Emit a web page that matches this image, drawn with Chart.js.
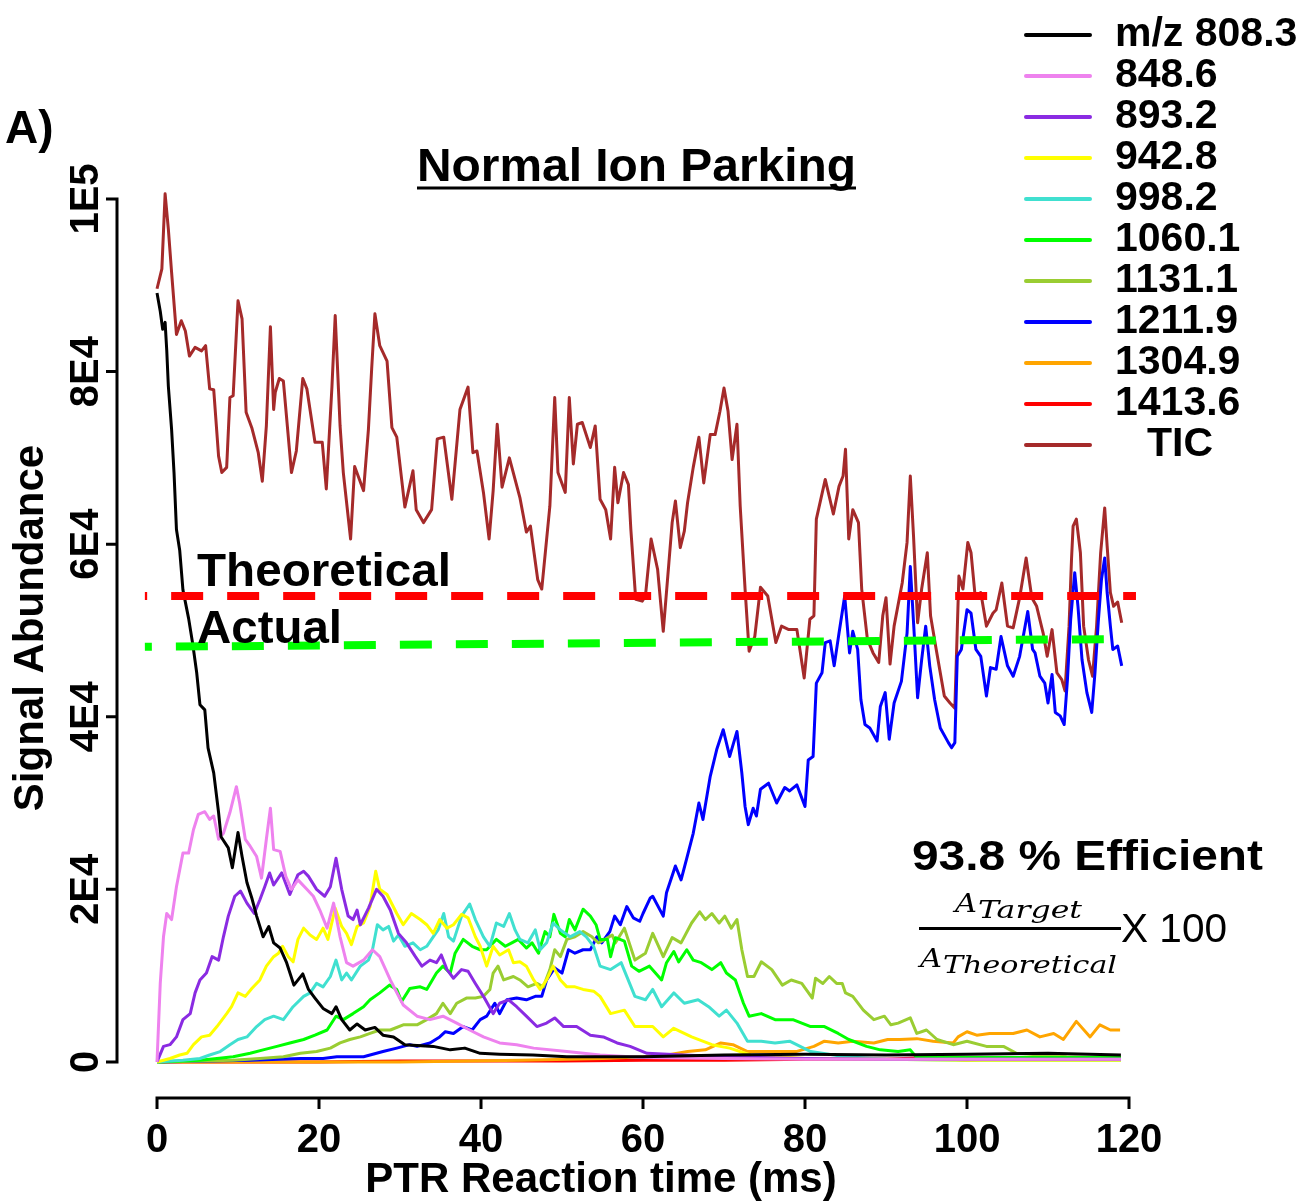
<!DOCTYPE html>
<html lang="en">
<head>
<meta charset="UTF-8">
<title>Normal Ion Parking</title>
<script src="https://cdn.jsdelivr.net/npm/chart.js"></script>
<style>
  body { margin: 0; background: #fff; }
  #wrap { width: 1306px; height: 1203px; }
</style>
</head>
<body>
<div id="wrap"><canvas id="ptrChart" width="1306" height="1203"></canvas></div>
<script>
// signal values are in thousands of counts, time in ms  ([time, value] pairs)
const mz808 = [[0,89.1],[0.4,87.0],[0.7,84.9],[1.0,85.7],[1.2,82.5],[1.4,78.3],[1.8,73.3],[2.1,68.3],[2.4,61.7],[2.8,59.3],[3.2,54.7],[3.9,51.4],[4.4,48.5],[4.9,45.1],[5.3,41.4],[5.9,40.8],[6.3,36.4],[7.0,33.5],[7.6,28.9],[7.9,26.1],[8.8,24.8],[9.3,22.5],[10.0,26.6],[10.5,23.8],[11.1,20.8],[11.7,19.0],[12.3,16.9],[13.1,14.5],[13.8,15.7],[14.4,13.8],[15.2,13.2],[16.0,11.5],[16.9,8.9],[18.0,10.2],[18.7,8.4],[19.5,7.4],[20.5,6.2],[21.6,5.6],[22.1,6.4],[22.8,4.9],[23.8,3.7],[24.7,4.4],[25.7,3.7],[26.9,4.0],[27.9,3.1],[29.2,2.9],[30.6,2.0],[32.1,1.9],[34.1,1.8],[36.2,1.4],[38.0,1.6],[39.9,1.0],[42.3,0.9],[46.4,0.8],[50.6,0.6],[60,0.6],[70,0.8],[80,0.9],[90,0.8],[100,0.9],[110,1.0],[119,0.8]];

const mz848 = [[0,0],[0.4,9.1],[0.8,14.5],[1.2,17.2],[1.8,16.5],[2.4,20.3],[3.2,24.2],[3.9,24.2],[4.5,26.9],[5.1,28.7],[5.9,29.0],[6.5,28.1],[7.0,28.5],[7.6,25.8],[8.2,26.5],[9.0,28.9],[9.8,31.9],[10.2,30.0],[10.9,25.8],[11.5,25.0],[12.3,23.8],[12.9,21.3],[13.5,25.8],[14.0,29.4],[14.4,24.6],[15.2,24.4],[15.9,21.5],[16.6,20.0],[17.4,21.1],[18.5,20.0],[19.3,19.2],[20.1,17.6],[21.0,15.5],[21.8,18.4],[22.6,14.5],[23.4,11.5],[24.2,11.1],[25.5,11.8],[26.6,13.0],[27.5,12.2],[28.8,9.5],[30.4,6.6],[32.1,5.3],[33.7,4.9],[35.3,5.3],[37.0,4.5],[38.6,3.7],[40.3,2.9],[42.3,2.2],[44.4,2.0],[46.5,1.6],[50.6,1.2],[54.7,0.8],[60,0.5],[70,0.4],[80,0.3],[90,0.3],[100,0.3],[110,0.3],[119,0.3]];

const mz893 = [[0,0],[0.8,1.8],[1.6,2.0],[2.4,2.9],[3.2,4.9],[4.1,5.6],[4.7,8.0],[5.3,9.5],[6.1,10.3],[6.8,12.2],[7.6,11.8],[8.2,14.5],[8.8,16.9],[9.6,19.2],[10.3,19.8],[11.1,18.4],[12.0,17.2],[12.7,18.8],[13.3,20.3],[13.9,21.9],[14.4,20.5],[15.4,21.9],[16.4,19.4],[17.4,21.7],[18.1,22.1],[18.7,21.5],[19.7,20.0],[20.7,19.2],[21.4,20.3],[22.1,23.6],[22.8,20.0],[23.6,16.9],[24.2,16.5],[24.7,17.6],[25.1,15.9],[26.1,17.8],[27.1,20.0],[27.9,19.2],[28.8,17.6],[29.8,14.9],[30.8,13.8],[31.9,12.2],[32.7,11.1],[33.7,11.8],[34.5,11.5],[35.1,12.4],[35.8,10.7],[36.6,9.7],[37.6,10.7],[38.4,10.5],[39.3,9.1],[40.3,7.6],[41.5,5.6],[42.3,6.8],[43.4,7.2],[44.4,6.4],[45.6,5.3],[46.9,4.1],[48.1,4.5],[49.1,5.1],[50.2,4.1],[51.8,4.1],[53.5,3.1],[55.1,2.9],[56.8,2.2],[58.4,1.8],[60.5,1.0],[65,0.8],[70,0.6],[80,0.4],[90,0.3],[100,0.3],[110,0.3],[119,0.3]];

const mz942 = [[0,0],[1.6,0.4],[2.8,0.8],[3.7,1.0],[4.5,2.0],[5.5,2.9],[6.5,3.1],[7.4,4.1],[8.6,5.6],[9.2,6.4],[10.0,8.0],[10.9,7.6],[11.7,8.5],[12.7,9.5],[13.5,11.1],[14.4,12.2],[15.0,12.6],[15.5,13.4],[16.2,12.2],[16.8,11.6],[17.4,14.2],[18.1,15.5],[18.9,14.7],[19.7,14.2],[20.5,15.5],[21.1,14.2],[22.0,17.8],[22.8,15.7],[23.4,14.9],[24.0,13.6],[24.7,15.7],[25.5,16.1],[26.3,18.0],[27.0,22.1],[27.5,20.0],[28.4,19.4],[29.6,17.2],[30.4,15.9],[31.4,17.2],[32.5,16.5],[33.3,15.9],[34.1,14.9],[34.9,16.5],[35.8,15.5],[36.6,15.9],[37.6,17.1],[38.4,16.7],[39.3,14.5],[39.9,13.4],[40.7,11.1],[41.5,13.4],[42.3,12.4],[43.4,13.0],[44.0,11.5],[44.8,11.6],[45.6,11.1],[46.5,9.5],[47.3,8.4],[48.1,9.5],[48.9,11.1],[49.8,9.5],[50.6,8.7],[51.6,8.7],[52.6,8.4],[53.9,8.2],[54.7,7.6],[56.0,5.6],[57.7,6.0],[59.0,4.1],[61.2,4.1],[62.5,2.9],[63.8,3.9],[66.0,2.9],[68.5,2.0],[70.7,1.6],[73.3,0.8],[80,0.4],[90,0.3],[100,0.2],[110,0.2],[119,0.2]];

const mz998 = [[0,0],[3.2,0.2],[5.3,0.4],[6.5,0.8],[7.8,1.2],[9.0,2.0],[10.0,2.6],[11.1,2.9],[12.3,4.1],[13.3,4.9],[14.4,5.3],[15.6,4.9],[16.8,6.4],[18.1,7.6],[18.9,8.0],[19.7,9.1],[20.5,8.7],[21.4,9.9],[22.1,11.8],[22.8,9.5],[23.4,10.3],[24.0,9.5],[25.1,11.1],[26.1,11.8],[26.6,13.0],[27.2,15.9],[27.9,15.3],[28.6,15.7],[29.2,14.0],[29.8,14.7],[30.6,13.4],[31.6,13.8],[32.5,13.0],[33.3,13.4],[34.1,14.5],[34.7,15.3],[35.4,17.2],[36.0,14.5],[36.6,14.0],[37.6,16.9],[38.6,18.3],[39.3,16.5],[40.3,14.5],[41.1,13.4],[41.9,16.1],[42.8,15.7],[43.5,17.2],[44.2,15.3],[44.8,14.2],[45.8,13.8],[46.7,15.3],[47.3,13.0],[48.1,13.8],[48.9,16.1],[49.8,15.3],[51.0,14.5],[52.2,15.1],[53.0,14.5],[53.9,13.4],[54.7,11.1],[56.0,10.7],[57.3,11.5],[59.0,7.6],[60.3,7.2],[61.2,8.4],[62.3,6.4],[63.8,8.0],[65.1,6.8],[66.8,7.2],[68.1,6.4],[69.4,5.3],[70.3,6.0],[71.6,4.5],[72.9,2.4],[74.6,2.4],[76.3,2.2],[78.1,2.4],[79.4,1.8],[80.7,1.2],[85,0.6],[90,0.3],[100,0.2],[110,0.2],[119,0.2]];

const mz1060 = [[0,0],[5.3,0.2],[7.4,0.4],[9.4,0.6],[11.5,1.0],[13.1,1.4],[14.8,1.8],[16.4,2.2],[18.1,2.6],[19.5,3.1],[21.0,3.7],[22.1,5.3],[23.0,4.9],[24.2,5.6],[25.5,6.4],[26.3,7.2],[27.5,8.0],[28.7,8.9],[29.6,8.4],[30.2,7.0],[31.2,8.5],[32.5,8.7],[33.3,8.4],[34.5,10.3],[35.3,11.1],[36.2,10.3],[36.8,12.6],[37.8,14.2],[38.9,13.4],[39.9,13.0],[40.7,13.0],[41.9,14.2],[43.0,13.4],[43.8,13.8],[44.6,14.2],[45.6,13.2],[46.3,13.8],[47.1,12.6],[47.9,15.1],[48.5,14.5],[49.0,17.1],[49.8,14.9],[50.4,14.5],[50.9,16.5],[51.6,15.3],[52.6,17.7],[53.5,16.9],[54.2,15.9],[54.7,14.2],[55.6,14.2],[56.0,12.2],[56.6,14.4],[57.7,14.0],[58.6,11.1],[59.5,10.5],[60.8,11.1],[62.3,9.5],[62.9,11.5],[63.8,12.8],[64.4,11.6],[65.4,13.0],[66.2,11.8],[67.2,11.5],[68.5,10.7],[69.6,11.5],[70.3,10.3],[71.4,9.5],[72.4,6.8],[73.1,5.3],[74.6,5.6],[76.3,4.9],[78.5,4.9],[80.7,4.1],[82.4,4.1],[84.1,3.3],[85.4,2.6],[87.6,1.8],[89.3,1.4],[91.5,1.2],[93.0,1.4],[93.7,0.6],[100,0.5],[110,0.5],[119,0.5]];

const mz1131 = [[0,0],[9.4,0.2],[12.7,0.4],[15.6,0.6],[17.7,1.0],[19.7,1.2],[21.4,1.6],[22.6,2.2],[23.8,2.6],[25.1,2.9],[26.3,3.3],[27.5,3.7],[28.8,3.7],[30.4,4.3],[32.1,4.3],[33.3,4.9],[34.5,5.6],[35.3,6.8],[36.2,5.6],[37.0,6.8],[38.2,7.4],[39.3,7.4],[40.3,7.6],[41.1,8.4],[41.5,10.3],[42.1,11.1],[42.8,9.5],[44.0,9.9],[44.8,9.5],[45.8,8.7],[46.9,9.1],[47.7,8.7],[48.5,10.7],[49.1,13.0],[49.8,12.2],[50.6,14.2],[51.6,14.5],[52.6,15.1],[53.7,14.5],[54.5,13.8],[55.3,14.2],[56.2,14.7],[56.6,13.8],[57.7,15.5],[59.0,11.8],[60.3,12.6],[61.2,14.9],[62.5,12.2],[63.6,14.4],[64.7,13.8],[66.0,16.1],[67.0,17.4],[67.7,16.5],[68.5,17.2],[69.4,16.1],[70.1,16.9],[70.9,15.5],[71.6,16.5],[72.2,13.0],[72.9,9.9],[73.7,9.9],[74.6,11.6],[75.9,10.7],[77.2,8.9],[78.3,9.5],[79.6,9.1],[80.9,7.4],[81.3,9.7],[82.2,9.1],[83.0,9.9],[83.9,9.1],[84.6,9.1],[85.0,8.0],[85.9,7.6],[87.2,6.0],[88.5,4.9],[89.8,5.3],[90.6,4.3],[91.5,4.5],[93.0,5.1],[93.8,3.3],[95.0,3.7],[96.3,2.6],[98.3,2.0],[100.0,2.4],[102.4,1.8],[104.5,1.8],[106.1,1.0],[109.0,0.8],[112.3,0.6],[119,0.4]];

const mz1211 = [[0,0],[11.5,0.2],[17.7,0.4],[20.5,0.4],[22.2,0.6],[23.8,0.6],[25.5,0.6],[27.1,1.0],[27.9,1.2],[29.6,1.6],[31.2,2.0],[32.1,1.8],[33.7,2.2],[34.9,2.9],[35.6,3.5],[36.6,3.3],[37.8,4.1],[38.9,3.7],[39.9,4.9],[40.7,5.3],[41.7,6.8],[42.3,5.6],[43.2,7.2],[44.4,7.4],[45.6,7.2],[46.7,7.6],[47.5,7.6],[48.1,9.5],[49.1,10.9],[50.0,10.3],[50.8,13.0],[51.6,12.6],[52.6,13.0],[53.5,13.0],[54.3,14.5],[54.9,13.8],[55.9,15.1],[56.5,16.9],[57.2,15.9],[58.0,18.0],[58.8,16.7],[59.6,16.3],[60.0,17.2],[60.9,19.0],[61.2,19.2],[62.5,16.9],[62.9,19.6],[64.0,22.7],[64.7,21.1],[65.4,23.6],[66.2,26.5],[66.9,30.0],[67.4,28.1],[68.3,33.1],[69.1,36.2],[69.9,38.5],[70.7,35.4],[71.6,38.3],[72.2,33.5],[72.6,29.6],[73.0,27.5],[73.6,29.4],[74.0,28.5],[74.5,31.6],[75.5,32.3],[76.5,30.0],[77.5,31.8],[78.1,31.4],[79.0,32.1],[80.0,29.6],[80.4,35.0],[81.0,35.4],[81.4,43.9],[82.1,45.1],[82.5,48.6],[83.1,48.8],[83.6,45.9],[84.2,49.7],[84.9,54.0],[85.5,47.4],[85.9,49.9],[86.5,47.8],[86.9,42.0],[87.4,39.1],[88.0,38.7],[88.9,37.2],[89.3,41.2],[89.9,42.8],[90.4,37.4],[91.0,41.6],[91.9,44.1],[92.6,49.7],[93.0,57.4],[93.5,49.3],[93.9,42.2],[94.4,46.6],[94.9,50.5],[95.4,45.9],[96.0,42.0],[96.7,38.7],[97.7,37.0],[98.1,36.4],[98.5,37.0],[98.8,47.0],[99.3,47.8],[100.0,52.4],[100.5,52.0],[101.1,47.8],[101.7,47.0],[102.4,42.4],[102.9,45.7],[103.6,45.5],[104.2,49.3],[105.0,45.9],[105.7,44.7],[106.5,47.0],[107.5,52.2],[108.1,47.8],[108.4,47.4],[109.0,44.7],[109.6,43.9],[110.0,41.6],[110.5,44.9],[110.9,40.5],[111.5,40.1],[112.0,39.1],[112.4,44.3],[112.8,51.3],[113.3,56.7],[113.7,52.8],[114.2,46.6],[114.8,42.8],[115.4,40.5],[115.8,45.1],[116.2,50.9],[116.6,55.9],[117.0,58.4],[117.3,54.4],[117.7,50.5],[118.0,47.8],[118.6,48.2],[119.1,45.9]];

const mz1304 = [[0,0],[30,0],[45,0.2],[55,0.4],[60,0.6],[63,0.8],[65.5,1.2],[67.7,1.4],[69.6,2.2],[71.1,2.0],[72.9,1.2],[76.3,1.2],[78.9,1.2],[81.1,1.8],[82.4,2.4],[84.1,2.2],[85.9,2.4],[88.5,2.2],[90.2,2.6],[91.7,2.6],[93.8,2.7],[95.8,2.4],[98.3,2.2],[98.9,2.9],[100.0,3.5],[101.2,3.1],[102.8,3.3],[104.1,3.3],[105.7,3.3],[107.4,3.7],[109.0,2.9],[110.7,3.3],[111.9,2.6],[113.5,4.7],[115.2,2.9],[116.4,4.3],[117.7,3.7],[118.9,3.7]];

const mz1413 = [[0,0],[10,0],[20,0],[30,0.1],[40,0.1],[50,0.1],[60,0.2],[70,0.2],[80,0.3],[90,0.3],[95,0.5],[100,0.2],[105,0.4],[110,0.5],[115,0.3],[119,0.5]];

const tic = [[0,89.6],[0.6,91.9],[1.0,100.6],[1.4,96.5],[1.8,91.5],[2.4,84.3],[3.0,85.9],[3.5,84.7],[4.0,81.8],[4.7,82.8],[5.5,82.4],[6.0,83.0],[6.5,78.0],[7.0,77.9],[7.6,70.2],[8.0,68.3],[8.6,68.9],[9.0,77.0],[9.4,77.2],[10.0,88.2],[10.5,86.1],[11.0,75.3],[11.7,73.5],[12.5,70.6],[13.0,67.3],[13.5,73.7],[14.0,85.2],[14.4,75.6],[14.6,77.6],[15.1,79.2],[15.6,78.9],[16.6,68.3],[17.2,70.8],[18.0,79.2],[18.5,78.0],[19.5,71.8],[20.4,71.8],[20.9,66.4],[21.6,78.3],[22.0,86.5],[22.6,73.7],[23.0,68.3],[23.9,60.6],[24.4,69.0],[25.5,66.2],[26.1,73.3],[26.5,80.3],[26.9,86.7],[27.5,83.0],[28.4,81.2],[29.0,73.5],[29.6,72.4],[30.6,64.3],[31.6,68.5],[32.0,64.0],[32.9,62.5],[33.9,64.0],[34.6,72.2],[35.4,72.4],[36.4,65.2],[37.4,75.6],[38.4,78.2],[39.0,70.6],[39.5,70.8],[40.3,66.0],[41.0,60.6],[41.5,66.2],[42.0,73.9],[42.6,66.6],[43.5,70.0],[44.8,65.4],[45.6,61.4],[46.1,62.1],[47.0,55.9],[47.5,54.8],[48.5,64.4],[49.1,77.0],[49.5,68.3],[50.4,66.0],[50.9,77.0],[51.4,69.3],[51.9,73.9],[52.5,74.1],[53.5,71.2],[54.1,73.7],[54.7,65.2],[55.4,64.0],[56.0,60.6],[56.5,68.9],[56.9,64.8],[57.6,68.3],[58.2,66.9],[58.5,61.7],[59.1,53.6],[59.9,53.4],[60.3,54.0],[61.0,60.6],[61.8,57.1],[62.5,49.9],[63.2,57.9],[63.6,62.5],[64.0,65.0],[64.6,59.6],[65.1,61.5],[65.5,64.8],[66.2,68.9],[66.9,72.4],[67.5,67.1],[68.3,72.7],[68.9,72.7],[69.5,75.4],[70.0,78.1],[70.5,75.4],[71.0,69.8],[71.6,73.9],[72.0,64.4],[72.6,54.8],[73.1,47.6],[73.8,49.3],[74.5,55.0],[75.4,54.0],[76.4,48.6],[77.1,50.5],[78.0,50.1],[79.0,50.1],[79.9,44.5],[80.6,51.3],[81.1,51.7],[81.4,62.9],[82.5,67.5],[83.5,63.5],[84.2,66.7],[84.7,67.9],[85.0,71.0],[85.4,60.6],[85.9,64.0],[86.6,62.5],[87.0,54.8],[87.7,49.0],[88.4,47.4],[89.1,46.3],[89.6,51.7],[90.0,53.8],[90.5,46.1],[91.0,50.5],[92.0,55.5],[92.6,60.2],[93.0,67.9],[93.4,60.9],[93.9,50.9],[94.4,54.8],[95.1,59.0],[95.5,51.7],[96.2,47.8],[97.2,42.4],[97.9,41.6],[98.5,41.0],[99.0,56.3],[99.5,54.8],[100.1,60.2],[100.5,59.0],[101.0,54.0],[101.7,54.4],[102.4,50.5],[103.2,52.0],[103.6,52.4],[104.3,55.5],[105.0,50.5],[105.7,50.3],[106.5,53.8],[107.3,58.4],[108.0,53.8],[108.6,52.8],[109.4,49.7],[109.9,47.0],[110.5,50.1],[111.1,45.1],[111.7,44.3],[112.1,43.0],[112.6,50.5],[112.9,58.2],[113.1,62.1],[113.5,62.9],[114.0,59.0],[114.4,50.5],[115.0,46.6],[115.5,44.7],[116.0,50.5],[116.5,59.0],[117.0,64.2],[117.3,59.8],[117.7,54.4],[118.1,52.8],[118.6,53.3],[119.1,50.9]];

// reference levels
const theoreticalLevel = [[-1.5,54.0],[120.86,54.0]];
const actualLevel = [[-1.5,48.1],[118,49.0]];

const seriesLabels = ['m/z 808.3','848.6','893.2','942.8','998.2','1060.1','1131.1','1211.9','1304.9','1413.6','TIC'];
const seriesData = [mz808, mz848, mz893, mz942, mz998, mz1060, mz1131, mz1211, mz1304, mz1413, tic];
const seriesColors = ['#000000','#EE82EE','#8A2BE2','#FFFF00','#40E0D0','#00FF00','#9ACD32','#0000FF','#FFA500','#FF0000','#A52A2A'];

const xTicks = [0, 20, 40, 60, 80, 100, 120];
const xTickLabels = ['0', '20', '40', '60', '80', '100', '120'];
const yTicks = [0, 20, 40, 60, 80, 100];
const yTickLabels = ['0', '2E4', '4E4', '6E4', '8E4', '1E5'];

const toXY = arr => arr.map(p => ({ x: p[0], y: p[1] }));

// chart.js draws dataset 0 on top, so reverse: red on top, TIC at the bottom
const datasets = [
  { label: 'Theoretical', data: toXY(theoreticalLevel), borderColor: '#FF0000', borderWidth: 8, borderDash: [32, 24], borderDashOffset: 29.7 },
  { label: 'Actual', data: toXY(actualLevel), borderColor: '#00FF00', borderWidth: 8, borderDash: [32, 24], borderDashOffset: 25 }
];
for (let i = seriesData.length - 1; i >= 0; i--) {
  datasets.splice(2, 0, { label: seriesLabels[i], data: toXY(seriesData[i]), borderColor: seriesColors[i], borderWidth: 3 });
}
// move TIC below the blue trace etc. (it is drawn first = at the bottom)
const ticIdx = datasets.findIndex(d => d.label === 'TIC');
datasets.push(datasets.splice(ticIdx, 1)[0]);

function fitText(ctx, text, left, baseline, width) {
  const w = ctx.measureText(text).width;
  ctx.save();
  ctx.translate(left, baseline);
  ctx.scale(width / w, 1);
  ctx.textAlign = 'left';
  ctx.fillText(text, 0, 0);
  ctx.restore();
}

const decorations = {
  id: 'decorations',
  afterDraw(chart) {
    const ctx = chart.ctx, xs = chart.scales.x, ys = chart.scales.y, area = chart.chartArea;
    ctx.save();
    ctx.strokeStyle = '#000';
    ctx.fillStyle = '#000';
    ctx.lineWidth = 3;

    // x axis (R style, detached)
    ctx.beginPath();
    ctx.moveTo(xs.getPixelForValue(xTicks[0]), area.bottom);
    ctx.lineTo(xs.getPixelForValue(xTicks[xTicks.length - 1]), area.bottom);
    xs.ticks.forEach(t => {
      const px = xs.getPixelForValue(t.value);
      ctx.moveTo(px, area.bottom - 1.5);
      ctx.lineTo(px, area.bottom + 11);
    });
    // y axis
    ctx.moveTo(area.left, ys.getPixelForValue(yTicks[0]));
    ctx.lineTo(area.left, ys.getPixelForValue(yTicks[yTicks.length - 1]));
    ys.ticks.forEach(t => {
      const py = ys.getPixelForValue(t.value);
      ctx.moveTo(area.left + 1.5, py);
      ctx.lineTo(area.left - 11, py);
    });
    ctx.stroke();

    ctx.font = 'bold 40px "Liberation Sans", Arial, sans-serif';
    ctx.textAlign = 'center';
    ctx.textBaseline = 'alphabetic';
    xs.ticks.forEach((t, i) => {
      ctx.fillText(xTickLabels[i], xs.getPixelForValue(t.value), 1152);
    });
    ys.ticks.forEach((t, i) => {
      ctx.save();
      ctx.translate(98, ys.getPixelForValue(t.value));
      ctx.rotate(-Math.PI / 2);
      ctx.fillText(yTickLabels[i], 0, 0);
      ctx.restore();
    });

    // axis titles
    ctx.font = 'bold 42px "Liberation Sans", Arial, sans-serif';
    ctx.fillText('PTR Reaction time (ms)', 601, 1192);
    ctx.save();
    ctx.translate(43, 628);
    ctx.rotate(-Math.PI / 2);
    ctx.fillText('Signal Abundance', 0, 0);
    ctx.restore();

    // panel label and title
    ctx.font = 'bold 46px "Liberation Sans", Arial, sans-serif';
    ctx.textAlign = 'left';
    ctx.fillText('A)', 5, 143);
    fitText(ctx, 'Normal Ion Parking', 417, 181, 439);
    ctx.beginPath();
    ctx.moveTo(417, 188);
    ctx.lineTo(856, 188);
    ctx.stroke();

    // level labels
    ctx.font = 'bold 47px "Liberation Sans", Arial, sans-serif';
    fitText(ctx, 'Theoretical', 197, 586, 254);
    fitText(ctx, 'Actual', 197, 643, 145);

    // efficiency note
    ctx.font = 'bold 42px "Liberation Sans", Arial, sans-serif';
    fitText(ctx, '93.8 % Efficient', 912, 870, 351);
    ctx.font = 'italic 26px "DejaVu Serif", serif';
    fitText(ctx, 'A', 955, 912, 22);
    fitText(ctx, 'A', 920, 967, 22);
    ctx.font = 'italic 24px "DejaVu Serif", serif';
    fitText(ctx, 'Target', 978, 918, 104);
    fitText(ctx, 'Theoretical', 943, 973, 174);
    ctx.beginPath();
    ctx.moveTo(919, 928.5);
    ctx.lineTo(1121, 928.5);
    ctx.stroke();
    ctx.font = '40px "Liberation Sans", Arial, sans-serif';
    fitText(ctx, 'X 100', 1121, 942, 106);

    // legend
    ctx.lineWidth = 4;
    ctx.lineCap = 'round';
    ctx.font = 'bold 41px "Liberation Sans", Arial, sans-serif';
    seriesLabels.forEach((lab, i) => {
      const y = 35 + i * 41;
      ctx.strokeStyle = seriesColors[i];
      ctx.beginPath();
      ctx.moveTo(1026, y);
      ctx.lineTo(1090, y);
      ctx.stroke();
      ctx.fillText(lab, lab === 'TIC' ? 1147 : 1115, y + 11);
    });
    ctx.restore();
  }
};

new Chart(document.getElementById('ptrChart'), {
  type: 'line',
  data: { datasets: datasets },
  options: {
    responsive: false,
    animation: false,
    devicePixelRatio: 1,
    layout: { padding: { left: 117, right: 177, top: 199, bottom: 105 } },
    elements: {
      point: { radius: 0 },
      line: { tension: 0, fill: false, borderJoinStyle: 'round' }
    },
    datasets: { line: { clip: false } },
    scales: {
      x: {
        type: 'linear', display: false, min: -4.94, max: 120,
        afterBuildTicks: s => { s.ticks = xTicks.map(v => ({ value: v })); }
      },
      y: {
        type: 'linear', display: false, min: -4.18, max: 100,
        afterBuildTicks: s => { s.ticks = yTicks.map(v => ({ value: v })); }
      }
    },
    plugins: { legend: { display: false }, tooltip: { enabled: false } }
  },
  plugins: [decorations]
});
</script>
</body>
</html>
